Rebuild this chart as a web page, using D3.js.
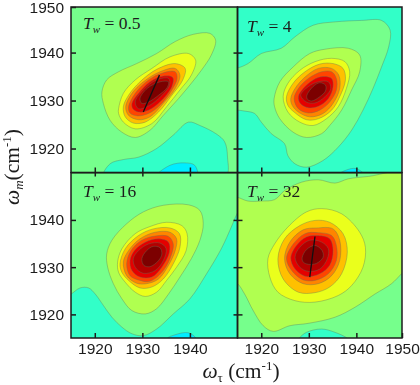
<!DOCTYPE html>
<html><head><meta charset="utf-8">
<style>html,body{margin:0;padding:0;background:#fff}svg{display:block;filter:blur(0.35px)}</style>
<script src="https://cdn.jsdelivr.net/npm/d3@7"></script></head><body>
<svg id="c" width="420" height="385"></svg>
<script>
const levelColors = ["#00eeff","#32ffc8","#76ff8c","#b0ff50","#eaff1c","#ffc000","#ff8400","#ff4400","#e40000","#b40000","#7c0000"];
const xTicks = [1920,1930,1940];
const xTicksLast = [1920,1930,1940,1950];
const yTicks = [1920,1930,1940];
const yTicksTop = [1920,1930,1940,1950];
const titles = ["0.5","4","16","32"];

const tw05Base = 2;
const tw05Levels = [1,0,3,4,5,6,7,8,9,10];
const tw05Contours = [
[[1921.8,1914],[1923.2,1916.8],[1926,1917.7],[1929.2,1918.2],[1933,1920],[1936.5,1922.8],[1939.7,1925.5],[1942.1,1924.8],[1945.6,1923],[1947.3,1921.4],[1947.9,1918.2],[1947.5,1914],[1934.4,1912]],
[[1932.7,1914],[1935.8,1916.5],[1939,1917],[1941,1916.5],[1941.5,1914]],
[[1921.5,1931.8],[1922.5,1934.3],[1925,1936],[1928.8,1937.7],[1933,1939.8],[1936.9,1942.3],[1940.7,1943.8],[1944.2,1944],[1945.4,1942.6],[1944.5,1939.5],[1942.4,1936.3],[1940.3,1933.6],[1937.6,1930.4],[1934.4,1926.9],[1931.6,1923.8],[1928.5,1922.3],[1925.7,1923.4],[1923.2,1925.9],[1921.8,1929.4]],
[[1925,1928.3],[1926,1931.5],[1928.5,1934.3],[1932,1936.7],[1935.8,1939.1],[1939.7,1939.8],[1941.2,1938.4],[1940.3,1935.3],[1937.9,1932.2],[1935.1,1928.7],[1932,1925.2],[1928.5,1924.1],[1926,1925.5],[1925,1927.3]],
[[1926,1928.7],[1927.1,1931.1],[1929.5,1933.9],[1933,1936.5],[1936.9,1937.7],[1939,1936.7],[1938.5,1934.3],[1936.2,1931.1],[1933.4,1927.6],[1930.6,1925.5],[1928.1,1925.3],[1926.4,1926.6]],
[[1926.5,1928.7],[1927.8,1931.5],[1930.2,1933.9],[1933.7,1936],[1936.9,1936.7],[1937.9,1935.3],[1936.9,1932.5],[1934.4,1929.4],[1931.6,1926.6],[1929.2,1926],[1927.1,1926.9]],
[[1927.1,1928.7],[1928.5,1931.5],[1931.3,1934.3],[1934.4,1935.8],[1936.9,1936],[1937.3,1934.6],[1936.2,1932.2],[1933.7,1929],[1931.3,1927.3],[1929,1926.8],[1927.4,1927.4]],
[[1927.8,1929.4],[1929.2,1931.5],[1931.6,1933.9],[1934.4,1935.1],[1936.4,1934.8],[1936.2,1932.9],[1933.7,1929.7],[1931.3,1928],[1929.2,1927.6],[1928,1928.3]],
[[1928.5,1929.7],[1930.2,1932.2],[1933,1934.3],[1935.5,1934.6],[1935.7,1933.2],[1933.4,1930.4],[1930.9,1928.7],[1929.2,1928.3]],
[[1929.5,1930.4],[1931,1932.5],[1933.7,1933.9],[1935.5,1933.9],[1935.2,1932.7],[1933.4,1931.1],[1931.3,1929.7],[1929.9,1929.4]]
];
const tw05Slope = [[1930.2,1927.6],[1933.6,1935.3]];

const tw4Base = 1;
const tw4Levels = [0,2,3,4,5,6,7,8,9,10];
const tw4Contours = [
[[1935.5,1914],[1937.6,1915.4],[1940,1915.8],[1942.1,1914]],
[[1913.7,1936.8],[1915,1936.8],[1917.2,1937.7],[1920,1939.8],[1924.2,1940.9],[1927.1,1943.3],[1930.9,1945.7],[1935.5,1946.4],[1941.1,1946.7],[1945.3,1946.7],[1947.1,1944.7],[1946.8,1941.2],[1945.3,1937],[1943.5,1932.5],[1941.4,1928],[1939,1923.8],[1936.2,1920.3],[1933,1917.5],[1929.5,1916.1],[1927.1,1916.8],[1925.6,1918.5],[1924.9,1921],[1922.1,1923.1],[1920,1925.5],[1918.6,1927.3],[1916.5,1927.8],[1915,1928],[1913,1928],[1912.3,1932.5]],
[[1922.7,1930.4],[1923.9,1933.9],[1926.7,1937],[1930.2,1939.8],[1933.4,1940.7],[1938.3,1940.9],[1940.7,1939.5],[1940.7,1936],[1939,1932.2],[1936.9,1928],[1934.4,1924.8],[1932.7,1923.1],[1929.5,1922.3],[1926.7,1923.4],[1923.9,1926.2],[1922.8,1928.7]],
[[1924.6,1930.8],[1925.6,1933.6],[1928.1,1936.3],[1931.3,1938.1],[1934.8,1938.8],[1937.6,1938.1],[1938.6,1936],[1937.9,1932.5],[1936.2,1928.7],[1933.7,1926.2],[1930.9,1924.8],[1928.1,1925.5],[1925.6,1927.6]],
[[1925.3,1930.8],[1926.7,1933.6],[1929.2,1936],[1932.3,1937.6],[1935.1,1937.7],[1937.2,1936.7],[1937.7,1934.3],[1936.5,1930.8],[1934.8,1928],[1932,1926.2],[1929.5,1926],[1926.9,1927.6],[1925.6,1929]],
[[1926.2,1930.4],[1927.1,1932.5],[1929.2,1934.9],[1932,1936.7],[1934.8,1936.7],[1936.3,1935.3],[1936.5,1932.5],[1935.1,1929.4],[1933,1927.3],[1930.2,1926.6],[1927.8,1927.6],[1926.5,1929]],
[[1926.9,1930.4],[1927.8,1932.5],[1929.9,1934.6],[1932.7,1936],[1934.8,1936],[1935.8,1934.6],[1935.8,1932.2],[1934.4,1929.7],[1932.3,1928],[1929.9,1927.4],[1927.8,1928.3]],
[[1927.8,1930.8],[1928.8,1932.5],[1930.9,1934.3],[1933,1935],[1934.8,1934.6],[1935.1,1932.9],[1934.1,1930.4],[1932,1928.8],[1929.9,1928.5],[1928.2,1929.4]],
[[1928.3,1931.1],[1929.9,1932.9],[1932,1933.9],[1934.1,1933.9],[1934.6,1932.5],[1933.4,1930.8],[1931.3,1929.5],[1929.5,1929.7]],
[[1929.6,1931.1],[1930.9,1932.9],[1932.3,1933.7],[1933.5,1933.2],[1933.5,1932],[1932.3,1930.8],[1930.6,1929.9],[1929.7,1930.3]]
];
const tw4Slope = [];

const tw16Base = 2;
const tw16Levels = [1,0,3,4,5,6,7,8,9,10];
const tw16Contours = [
[[1914.1,1924],[1915,1924.3],[1916.9,1925.6],[1918.7,1925.6],[1920.1,1924.3],[1921.8,1921.9],[1923.6,1919.4],[1925.7,1917.3],[1927.8,1915.9],[1930.2,1915.5],[1933,1916.9],[1936.5,1920.1],[1940,1923.3],[1943.5,1928.6],[1946.6,1933.9],[1948.7,1938.5],[1949.9,1941.3],[1951.2,1943.4],[1953,1925],[1951,1912],[1930,1911],[1914,1912]],
[[1934.7,1913],[1935.1,1914.8],[1936.9,1915.7],[1939.7,1916.1],[1941.4,1914.8],[1941.8,1913]],
[[1922.5,1932.8],[1923.6,1935.7],[1926.7,1939.2],[1930.2,1941.7],[1934.4,1943.1],[1939.7,1943.2],[1942.1,1942],[1942.8,1939.2],[1942.1,1935.7],[1940.3,1931.8],[1937.9,1927.9],[1935.5,1924.3],[1933,1921.2],[1930.6,1920.1],[1927.8,1920.8],[1925.7,1923.3],[1923.9,1926.5],[1922.7,1930]],
[[1924.8,1931.1],[1925.7,1933.9],[1928.5,1937.1],[1931.6,1938.6],[1935.1,1939.5],[1938.3,1938.8],[1939.4,1937.1],[1939.2,1933.5],[1937.2,1930],[1935.1,1927.2],[1933,1924.7],[1930.6,1923.8],[1928.5,1924.7],[1926.4,1926.8],[1925,1928.9]],
[[1925.3,1930.7],[1926.4,1933.9],[1929.2,1936.7],[1932.3,1938.1],[1935.8,1938.3],[1937.8,1937.1],[1937.9,1934.2],[1936.5,1930.7],[1934.4,1927.5],[1932,1925.8],[1929.5,1925.6],[1927.1,1927.2],[1925.7,1928.9]],
[[1926,1931.1],[1927.1,1933.5],[1929.5,1936],[1932.7,1937.4],[1935.8,1937.4],[1937.2,1936],[1936.9,1933.5],[1935.5,1930.4],[1933.4,1927.5],[1930.9,1926.5],[1928.8,1926.6],[1926.7,1928.2]],
[[1926.7,1930.7],[1927.6,1933.5],[1929.9,1935.7],[1932.7,1936.6],[1935.5,1936.5],[1936.5,1934.9],[1935.8,1931.8],[1934.1,1928.9],[1931.6,1927],[1929.5,1927.2],[1927.4,1928.2]],
[[1927.4,1931.4],[1928.3,1933.5],[1930.6,1935.3],[1933.4,1936],[1935.5,1935.3],[1935.7,1933.2],[1934.1,1930],[1932,1927.9],[1929.5,1927.9],[1927.8,1929.3]],
[[1928.1,1931.8],[1929.2,1933.5],[1931.3,1934.9],[1933.7,1935.1],[1935,1933.9],[1934.4,1931.4],[1932.7,1929.3],[1930.2,1928.7],[1928.5,1930]],
[[1929.9,1931.8],[1930.9,1933.5],[1932.3,1934.4],[1933.7,1934.1],[1934.1,1932.8],[1933.4,1931.4],[1931.6,1930.1],[1930.3,1930.4]]
];
const tw16Slope = [];

const tw32Base = 2;
const tw32Levels = [3,1,4,5,6,7,8,9,10];
const tw32Contours = [
[[1913.4,1927.2],[1915,1926.5],[1916.5,1924.3],[1918.3,1920.8],[1920.4,1917.6],[1922.5,1916.4],[1926,1917.6],[1929.9,1918.1],[1935.5,1919.4],[1939.7,1921.5],[1943.9,1924.3],[1947.4,1926.5],[1949.5,1928.6],[1951.6,1930.7],[1952,1943.4],[1951.6,1950.1],[1942.5,1949.2],[1938.3,1948.7],[1935.5,1947.8],[1932,1948.5],[1928.5,1948],[1925,1946.3],[1922.8,1944.3],[1920,1944],[1917.2,1944],[1915,1944.8],[1913,1945.2],[1912.3,1936.4]],
[[1926.4,1913],[1927.8,1914.8],[1929.5,1916.2],[1932.7,1916.9],[1935.5,1916.2],[1938.3,1914.8],[1939.7,1913]],
[[1921.4,1931.8],[1922.8,1934.9],[1925.6,1938.5],[1929.5,1941.7],[1932.7,1942.4],[1936.9,1941.3],[1940.7,1937.4],[1941.9,1934.2],[1941.4,1930],[1939,1926.1],[1936.2,1924],[1931.3,1922.6],[1927.1,1922.9],[1923.5,1924.7],[1921.8,1927.9]],
[[1923.5,1931.8],[1924.9,1936],[1928.1,1938.8],[1931.3,1939.9],[1934.4,1939.5],[1937.2,1937.1],[1938.1,1933.2],[1936.9,1928.6],[1934.4,1925.8],[1931.3,1924.6],[1927.8,1924.7],[1924.6,1927.5]],
[[1924.9,1931.8],[1926,1935.3],[1928.8,1937.9],[1931.6,1938.3],[1935.1,1938.1],[1936.5,1935.7],[1936.5,1931.4],[1934.8,1928.2],[1932,1926.5],[1928.8,1926.5],[1926,1928.6]],
[[1925.3,1931.8],[1926.5,1934.6],[1929.2,1937.1],[1932,1937.3],[1934.8,1936.7],[1935.8,1934.6],[1935.8,1931.4],[1934.1,1928.6],[1931.3,1927.2],[1928.8,1927.3],[1926.4,1929.3]],
[[1926.2,1932],[1927.4,1934.6],[1929.5,1936.4],[1932,1936.7],[1934.4,1936],[1935.1,1933.5],[1934.4,1930.4],[1932.3,1928.6],[1929.5,1928],[1927.1,1929.6]],
[[1927.1,1932.1],[1928.1,1934.2],[1930.2,1935.7],[1932.7,1935.3],[1934.1,1933.9],[1933.9,1931.8],[1932.3,1929.6],[1929.9,1929.1],[1928.1,1930]],
[[1928.6,1932],[1929.5,1933.7],[1931.3,1934.6],[1932.8,1933.5],[1933,1932.1],[1931.6,1930.8],[1929.9,1930.6],[1928.8,1931.1]]
];
const tw32Slope = [[1930.2,1927.9],[1931.3,1936.5]];

const xLeft = d3.scaleLinear().domain([1915,1950]).range([71,237.5]).clamp(true);
const xRight = d3.scaleLinear().domain([1915,1949.6]).range([237.5,402]).clamp(true);
const yTop = d3.scaleLinear().domain([1915,1949.5]).range([172.5,7]).clamp(true);
const yBot = d3.scaleLinear().domain([1915,1950]).range([338,172.7]).clamp(true);
const xOpen = s => d3.scaleLinear().domain(s.domain()).range(s.range());

const panels = [
 {x:xLeft, y:yTop, base:tw05Base, lv:tw05Levels, c:tw05Contours, s:tw05Slope, tx:83, ty:29},
 {x:xRight,y:yTop, base:tw4Base,  lv:tw4Levels,  c:tw4Contours,  s:tw4Slope,  tx:247,ty:32},
 {x:xLeft, y:yBot, base:tw16Base, lv:tw16Levels, c:tw16Contours, s:tw16Slope, tx:83, ty:197},
 {x:xRight,y:yBot, base:tw32Base, lv:tw32Levels, c:tw32Contours, s:tw32Slope, tx:247,ty:197}
];
const svg = d3.select("#c");
const defs = svg.append("defs");
const serif = "'Liberation Serif','Times New Roman',serif";
const sans = "'Liberation Sans',Arial,sans-serif";
const ink = "#1c1c1c";

panels.forEach((p,i)=>{
  const [x0,x1]=p.x.range(), [y1,y0]=p.y.range();
  defs.append("clipPath").attr("id","clip"+i).append("rect").attr("x",x0).attr("y",y0).attr("width",x1-x0).attr("height",y1-y0);
  const X=xOpen(p.x), Y=xOpen(p.y);
  const g=svg.append("g").attr("clip-path",`url(#clip${i})`);
  g.append("rect").attr("x",x0).attr("y",y0).attr("width",x1-x0).attr("height",y1-y0).attr("fill",levelColors[p.base]);
  const line=d3.line().x(d=>X(d[0])).y(d=>Y(d[1])).curve(d3.curveCatmullRomClosed.alpha(0.5));
  g.selectAll("path.c").data(p.c).join("path").attr("class","c")
    .attr("d",line).attr("fill",(d,k)=>levelColors[p.lv[k]])
    .attr("stroke","#5f7a5a").attr("stroke-opacity",0.55).attr("stroke-width",0.7);
  if(p.s.length){
    g.append("path").attr("d",d3.line().x(d=>X(d[0])).y(d=>Y(d[1]))(p.s))
     .attr("stroke","#111").attr("stroke-width",1.3).attr("fill","none");
  }
  const t=svg.append("text").attr("x",p.tx).attr("y",p.ty).attr("font-family",serif).attr("font-size",17.5).attr("fill",ink);
  t.append("tspan").attr("font-style","italic").text("T");
  t.append("tspan").attr("font-style","italic").attr("font-size",11).attr("dy",4).text("w");
  t.append("tspan").attr("dy",-4).text(" = "+titles[i]);
});

function style(a){
  a.select(".domain").remove();
  a.selectAll("line").attr("stroke",ink).attr("stroke-width",1.5);
  a.selectAll("text").attr("font-family",sans).attr("font-size",15.5).attr("fill",ink);
}
// left labelled axes
svg.append("g").attr("transform",`translate(${xLeft.range()[0]},0)`)
  .call(d3.axisLeft(yTop).tickValues(yTicksTop).tickFormat(d3.format("d")).tickSizeInner(-5).tickSizeOuter(0).tickPadding(7)).call(style)
  .selectAll("text").filter(d=>d===1950).attr("dy","1.7em").attr("y",-14).attr("dy",null).attr("transform","translate(0,19)");
svg.append("g").attr("transform",`translate(${xLeft.range()[0]},0)`)
  .call(d3.axisLeft(yBot).tickValues(yTicks).tickFormat(d3.format("d")).tickSizeInner(-5).tickSizeOuter(0).tickPadding(7)).call(style);
// bottom labelled axes
svg.append("g").attr("transform",`translate(0,${yBot.range()[0]})`)
  .call(d3.axisBottom(xLeft).tickValues(xTicks).tickFormat(d3.format("d")).tickSizeInner(-5).tickSizeOuter(0).tickPadding(5)).call(style);
svg.append("g").attr("transform",`translate(0,${yBot.range()[0]})`)
  .call(d3.axisBottom(xRight).tickValues(xTicksLast).tickFormat(d3.format("d")).tickSizeInner(-5).tickSizeOuter(0).tickPadding(5)).call(style);
// inner tick marks
[yTop,yBot].forEach(y=>{
  svg.append("g").attr("transform",`translate(${xLeft.range()[1]},0)`)
    .call(d3.axisLeft(y).tickValues(yTicks).tickFormat("").tickSizeInner(-5).tickSizeOuter(0)).call(style);
  svg.append("g").attr("transform",`translate(${xLeft.range()[1]},0)`)
    .call(d3.axisLeft(y).tickValues(yTicks).tickFormat("").tickSizeInner(4).tickSizeOuter(0)).call(style);
});
[xLeft,xRight].forEach(x=>{
  svg.append("g").attr("transform",`translate(0,${yTop.range()[0]})`)
    .call(d3.axisBottom(x).tickValues(xTicks).tickFormat("").tickSizeInner(-5).tickSizeOuter(0)).call(style);
  svg.append("g").attr("transform",`translate(0,${yTop.range()[0]})`)
    .call(d3.axisBottom(x).tickValues(xTicks).tickFormat("").tickSizeInner(4).tickSizeOuter(0)).call(style);
});
// frame
panels.forEach(p=>{
  const [x0,x1]=p.x.range(), [y1,y0]=p.y.range();
  svg.append("rect").attr("x",x0).attr("y",y0).attr("width",x1-x0).attr("height",y1-y0)
    .attr("fill","none").attr("stroke",ink).attr("stroke-width",1.5);
});
// axis titles
const xt=svg.append("text").attr("x",241).attr("y",378).attr("text-anchor","middle").attr("font-family",serif).attr("font-size",21.5).attr("fill",ink);
xt.append("tspan").attr("font-style","italic").text("ω");
xt.append("tspan").attr("font-size",13).attr("dy",4).text("τ");
xt.append("tspan").attr("dy",-4).text(" (cm");
xt.append("tspan").attr("font-size",13).attr("dy",-8).text("-1");
xt.append("tspan").attr("dy",8).text(")");
const yt=svg.append("text").attr("transform","translate(19,167) rotate(-90)").attr("text-anchor","middle").attr("font-family",serif).attr("font-size",21.5).attr("fill",ink);
yt.append("tspan").attr("font-style","italic").text("ω");
yt.append("tspan").attr("font-style","italic").attr("font-size",13).attr("dy",4).text("m");
yt.append("tspan").attr("dy",-4).text("(cm");
yt.append("tspan").attr("font-size",13).attr("dy",-8).text("-1");
yt.append("tspan").attr("dy",8).text(")");
</script></body></html>
